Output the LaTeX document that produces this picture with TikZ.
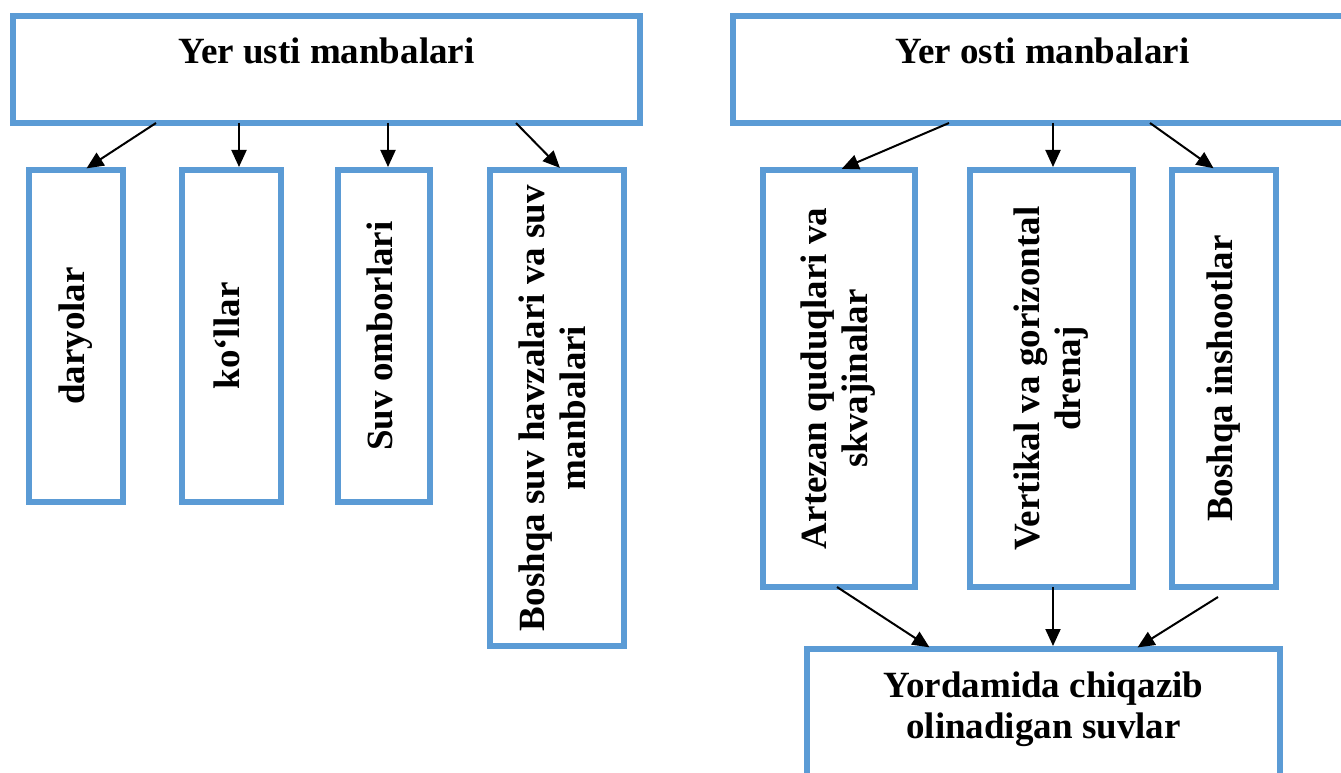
\documentclass[tikz,border=0pt]{standalone}
\usepackage{fontspec}
\setmainfont{Liberation Serif}
\usepackage{graphicx}
\usetikzlibrary{arrows.meta}
\definecolor{boxblue}{RGB}{91,155,213}
\newcommand{\vtext}[1]{\rotatebox{90}{\begin{tabular}{@{}c@{}}#1\end{tabular}}}

\begin{document}
\begin{tikzpicture}[x=1pt, y=-1pt,
        box/.style={draw=boxblue, line width=6pt, rectangle, inner sep=0pt, outer sep=0pt,
            align=center, font=\fontsize{37}{41}\selectfont\bfseries},
        arr/.style={-{Triangle[length=17pt,width=15pt]}, line width=2pt, shorten >=3pt}]
        \useasboundingbox (0,0) rectangle (1341,773);
        \clip (0,0) rectangle (1341,773);

        % Nodes
        \node[box, minimum width=627pt, minimum height=107pt, text height=25pt, text depth=37pt] (usti) at (326.5,69.5) {Yer usti manbalari};
        \node[box, minimum width=94pt, minimum height=332pt] (daryo) at (76,336) {\vtext{daryolar}};
        \node[box, minimum width=99pt, minimum height=332pt] (kollar) at (231.5,336) {\vtext{ko‘llar}};
        \node[box, minimum width=92pt, minimum height=332pt] (suvom) at (384,336) {\vtext{Suv omborlari}};
        \node[box, minimum width=134pt, minimum height=476pt] (boshqa) at (557,408) {\vtext{Boshqa suv havzalari va suv\\manbalari}};

        \node[box, minimum width=619pt, minimum height=107pt, text height=25pt, text depth=37pt] (osti) at (1042.5,69.5) {Yer osti manbalari};
        \node[box, minimum width=152pt, minimum height=417pt] (artezan) at (839,378.5) {\vtext{Artezan quduqlari va\\skvajinalar}};
        \node[box, minimum width=163pt, minimum height=417pt] (vertikal) at (1051.5,378.5) {\vtext{Vertikal va gorizontal\\drenaj}};
        \node[box, minimum width=104pt, minimum height=417pt] (inshoot) at (1224,378.5) {\vtext{Boshqa inshootlar}};
        \node[box, anchor=north, minimum width=473pt, minimum height=160pt, text height=30pt, text depth=94pt] (chiqazib) at (1043.5,649) {\begin{tabular}[t]{@{}c@{}}Yordamida chiqazib\\olinadigan suvlar\end{tabular}};

        % Edges
        \draw[arr] ([xshift=-170.5pt]usti.south) -- ([xshift=8pt]daryo.north);
        \draw[arr] ([xshift=-87.5pt]usti.south) -- ([xshift=7.5pt]kollar.north);
        \draw[arr] ([xshift=61.5pt]usti.south) -- ([xshift=4pt]suvom.north);
        \draw[arr] ([xshift=189.5pt]usti.south) -- ([xshift=5pt]boshqa.north);

        \draw[arr] ([xshift=-93.5pt]osti.south) -- (artezan.north);
        \draw[arr] ([xshift=10.5pt]osti.south) -- ([xshift=1.5pt]vertikal.north);
        \draw[arr] ([xshift=107.5pt]osti.south) -- ([xshift=-8pt]inshoot.north);

        % Edges into the lower box
        \draw[arr] ([xshift=-2pt]artezan.south) -- ([xshift=-111.5pt]chiqazib.north);
        \draw[arr] ([xshift=1.5pt]vertikal.south) -- ([xshift=9.5pt]chiqazib.north);
        \draw[arr] ([xshift=-6pt,yshift=-10pt]inshoot.south) -- ([xshift=91.5pt]chiqazib.north);
    \end{tikzpicture}
\end{document}
